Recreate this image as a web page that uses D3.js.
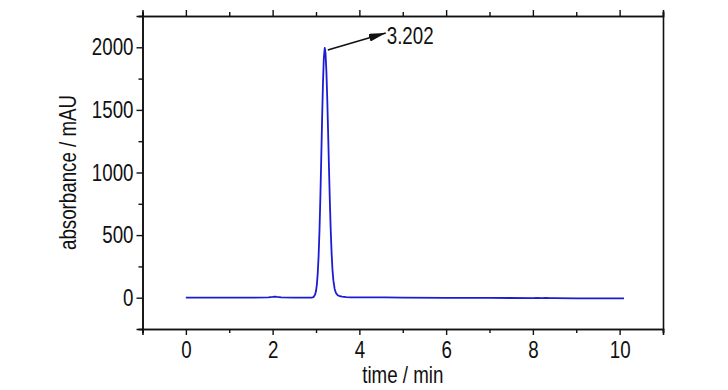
<!DOCTYPE html>
<html>
<head>
<meta charset="utf-8">
<script src="https://cdn.jsdelivr.net/npm/d3@7"></script>
<style>
  body { margin: 0; background: #fff; }
  text { font-family: "Liberation Sans", Arial, sans-serif; fill: #111; }
</style>
</head>
<body>
<div class="chart"></div>
<script>
// chromatogram values
const times = [0, 0.5, 1.0, 1.5, 1.9, 2.0, 2.05, 2.1, 2.2, 2.5, 2.8, 2.9, 2.94, 2.98, 3.0, 3.02, 3.04, 3.06, 3.08, 3.1, 3.12, 3.14, 3.16, 3.18, 3.202, 3.22, 3.24, 3.26, 3.28, 3.3, 3.32, 3.34, 3.36, 3.38, 3.4, 3.43, 3.46, 3.5, 3.55, 3.6, 3.7, 3.8, 4.0, 4.5, 4.6, 5.0, 6.0, 7.0, 8.0, 8.1, 8.2, 8.3, 8.4, 8.5, 9.0, 10.0, 10.1];
const absorbance = [0, 0, 0, 0, 2, 6, 9, 6, 2, 1, 1, 1, 4, 25, 53, 105, 194, 333, 531, 791, 1097, 1417, 1705, 1911, 1995, 1951, 1805, 1581, 1309, 1026, 761, 534, 354, 223, 140, 70, 38, 20, 12, 8, 5, 3, 2, 2, 3, 1, -1, -2, -3, -1, -4, -2, -4, -4, -5, -5, -5];
const xTicks = [0, 2, 4, 6, 8, 10];
const xMinor = [-1, 1, 3, 5, 7, 9, 11];
const yTicks = [0, 500, 1000, 1500, 2000];
const yMinor = [-250, 250, 750, 1250, 1750, 2250];
const peakLabel = "3.202";
const peakTime = 3.202;

const width = 728;
const height = 390;
const margin = { top: 16, right: 65, bottom: 61, left: 142.5 };

const svg = d3
  .select(".chart")
  .append("svg")
  .attr("width", width)
  .attr("height", height);

const x = d3.scaleLinear().domain([-1, 11]).range([margin.left, width - margin.right]);
const y = d3.scaleLinear().domain([-250, 2250]).range([height - margin.bottom, margin.top]);

const fontSize = 24;
const squeeze = 0.78; // the original uses a narrow face

// bottom axis
const bottomAxis = svg.append("g").attr("transform", "translate(0," + y.range()[0] + ")");
bottomAxis.call(d3.axisBottom(x).tickValues(xTicks).tickSize(6).tickPadding(6).tickFormat(d3.format("d")));
bottomAxis.append("g").call(d3.axisBottom(x).tickValues(xMinor).tickSize(4).tickFormat(""));

// top axis, ticks only
const topAxis = svg.append("g").attr("transform", "translate(0," + y.range()[1] + ")");
topAxis.call(d3.axisTop(x).tickValues(xTicks).tickSize(6).tickFormat(""));
topAxis.append("g").call(d3.axisTop(x).tickValues(xMinor).tickSize(4).tickFormat(""));

// left axis
const leftAxis = svg.append("g").attr("transform", "translate(" + x.range()[0] + ",0)");
leftAxis.call(d3.axisLeft(y).tickValues(yTicks).tickSize(6).tickPadding(3).tickFormat(d3.format("d")));
leftAxis.append("g").call(d3.axisLeft(y).tickValues(yMinor).tickSize(4).tickFormat(""));

// right axis, plain line
const rightAxis = svg.append("g").attr("transform", "translate(" + x.range()[1] + ",0)");
rightAxis.call(d3.axisRight(y).tickValues([]).tickSizeOuter(0));

svg.selectAll(".domain").attr("stroke", "#111").attr("stroke-width", 1.6);
svg.selectAll(".tick line").attr("stroke", "#111").attr("stroke-width", 1.4);
svg.selectAll(".tick text")
  .style("font-size", fontSize + "px")
  .attr("fill", "#111");
svg.selectAll("g").attr("font-family", null);

// trace
const line = d3.line()
  .x((d, i) => x(times[i]))
  .y(d => y(d));

svg.append("path")
  .datum(absorbance)
  .attr("fill", "none")
  .attr("stroke", "#1c1cd4")
  .attr("stroke-width", 1.8)
  .attr("stroke-linejoin", "round")
  .attr("d", line);

// peak annotation
svg.append("defs")
  .append("marker")
  .attr("id", "arrow")
  .attr("viewBox", "0 0 10 10")
  .attr("preserveAspectRatio", "none")
  .attr("refX", 10)
  .attr("refY", 5)
  .attr("markerWidth", 17)
  .attr("markerHeight", 8)
  .attr("markerUnits", "userSpaceOnUse")
  .attr("orient", "auto")
  .append("path")
  .attr("d", "M0,0L10,5L0,10z")
  .attr("fill", "#111");

const peakIdx = times.indexOf(peakTime);
const px = x(peakTime) + 3;
const py = y(absorbance[peakIdx]) + 2;
svg.append("line")
  .attr("x1", px)
  .attr("y1", py)
  .attr("x2", x(peakTime) + 61)
  .attr("y2", py - 17)
  .attr("stroke", "#111")
  .attr("stroke-width", 1.6)
  .attr("marker-end", "url(#arrow)");

svg.append("text")
  .attr("x", x(peakTime) + 62)
  .attr("y", py - 6)
  .style("font-size", fontSize + "px")
  .text(peakLabel);

// axis titles
svg.append("text")
  .attr("x", (x.range()[0] + x.range()[1]) / 2)
  .attr("y", 383)
  .attr("text-anchor", "middle")
  .style("font-size", fontSize + "px")
  .text("time / min");

svg.append("text")
  .attr("transform", "translate(76," + y(1000) + ") rotate(-90)")
  .attr("text-anchor", "middle")
  .style("font-size", fontSize + "px")
  .text("absorbance / mAU");

// squeeze every label to the narrow width
svg.selectAll("text").each(function() {
  const w = this.getComputedTextLength();
  if (w > 0) {
    d3.select(this)
      .attr("textLength", w * squeeze)
      .attr("lengthAdjust", "spacingAndGlyphs");
  }
});
</script>
</body>
</html>
